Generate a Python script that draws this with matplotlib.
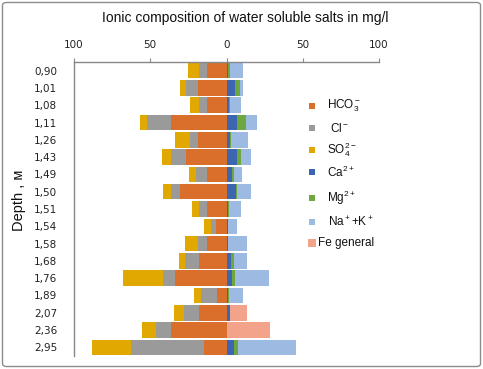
import matplotlib
matplotlib.use("Agg")
import matplotlib.pyplot as plt
import numpy as np
from matplotlib.patches import Rectangle, FancyBboxPatch
from matplotlib.ticker import FuncFormatter

plt.rcParams['mathtext.fontset'] = 'custom'
plt.rcParams['mathtext.rm'] = 'Liberation Sans'
plt.rcParams['mathtext.it'] = 'Liberation Sans'
plt.rcParams['mathtext.default'] = 'regular'

depths = ['0,90', '1,01', '1,08', '1,11', '1,26', '1,43', '1,49', '1,50', '1,51',
          '1,54', '1,58', '1,68', '1,76', '1,89', '2,07', '2,36', '2,95']
hco3 = [12.5, 18.4, 12.5, 36.6, 18.4, 26.8, 12.5, 30.7, 12.5, 6.6, 12.5, 18.0, 34.0, 6.4, 18.2, 36.6, 14.9]
cl = [5.7, 8.3, 5.7, 15.4, 5.7, 9.4, 7.7, 5.5, 5.3, 3.5, 6.4, 9.2, 7.9, 10.5, 9.9, 9.9, 47.8]
so4 = [7.2, 3.9, 5.9, 4.4, 9.9, 6.4, 4.6, 5.7, 5.0, 4.8, 8.6, 4.2, 25.7, 4.6, 6.6, 8.6, 25.2]
ca = [1.0, 5.5, 1.5, 7.2, 2.6, 6.6, 3.3, 6.1, 1.0, 1.0, 1.0, 3.1, 3.3, 1.0, 2.0, 0.0, 4.8]
mg = [1.0, 3.3, 1.0, 5.3, 0.5, 2.6, 1.3, 0.7, 0.7, 0.3, 0.3, 1.5, 2.2, 0.5, 0.3, 0.0, 2.6]
na = [8.6, 1.8, 7.2, 7.5, 10.7, 6.8, 5.5, 9.0, 8.1, 5.5, 12.0, 8.8, 22.4, 9.0, 0.0, 0.0, 38.2]
fe = [0, 0, 0, 0, 0, 0, 0, 0, 0, 0, 0, 0, 0, 0, 11.0, 28.5, 0]

xticks = [-100, -50, 0, 50, 100]

colors = {
    'hco3': '#DA6E2B', 'cl': '#9A9A9A', 'so4': '#E0A800',
    'ca': '#3D66B0', 'mg': '#6EA640', 'na': '#9DBBE2', 'fe': '#F2A38A',
}

W, H = 483, 369
fig = plt.figure(figsize=(W / 100, H / 100), dpi=100)
ax = fig.add_axes([74 / W, 1 - 356 / H, (379 - 74) / W, (356 - 62) / H])

y = np.arange(len(depths))
bh = 0.9
left_series = [(hco3, 'hco3'), (cl, 'cl'), (so4, 'so4')]
right_series = [(ca, 'ca'), (mg, 'mg'), (na, 'na'), (fe, 'fe')]

base = np.zeros(len(depths))
for vals, key in left_series:
    v = np.array(vals)
    ax.barh(y, -v, left=-base, height=bh, color=colors[key], linewidth=0)
    base += v
base = np.zeros(len(depths))
for vals, key in right_series:
    v = np.array(vals)
    ax.barh(y, v, left=base, height=bh, color=colors[key], linewidth=0)
    base += v

ax.set_xlim(-100, 100)
ax.set_ylim(len(depths) - 0.5, -0.5)
ax.set_yticks(y)
ax.set_yticklabels(depths, fontsize=7.5, family='DejaVu Sans', color='#222222')
ax.xaxis.tick_top()
ax.set_xticks(xticks)
ax.xaxis.set_major_formatter(FuncFormatter(lambda v, p: f"{abs(int(v))}"))
ax.tick_params(axis='x', labelsize=7.5, colors='#222222', length=3, color='#888888', pad=6)
ax.tick_params(axis='y', length=0, pad=12)
for lab in ax.get_xticklabels():
    lab.set_family('DejaVu Sans')
for s in ['right', 'bottom']:
    ax.spines[s].set_visible(False)
for s in ['top', 'left']:
    ax.spines[s].set_color('#888888')
    ax.spines[s].set_linewidth(1)

fig.text(245 / W, 1 - 18 / H, 'Ionic composition of water soluble salts in mg/l',
         ha='center', va='center', fontsize=10, family='Liberation Sans', color='#111111')
fig.text(19 / W, 1 - 200 / H, 'Depth , м', rotation=90, ha='center', va='center',
         fontsize=10.5, family='Liberation Sans', color='#111111')

legend_items = [
    ('hco3', 'HCO$_3^-$', 106, 327),
    ('cl', ' Cl$^-$', 128, 327),
    ('so4', 'SO$_4^{2-}$', 150, 327),
    ('ca', 'Ca$^{2+}$', 172, 327),
    ('mg', 'Mg$^{2+}$', 198, 327),
    ('na', 'Na$^+$+K$^+$', 222, 328),
]
for key, label, yy, tx in legend_items:
    fig.patches.append(Rectangle((309 / W, 1 - (yy + 3) / H), 6 / W, 6 / H,
                                 transform=fig.transFigure, color=colors[key], lw=0))
    fig.text(tx / W, 1 - yy / H, label, ha='left', va='center', fontsize=8.5,
             family='Liberation Sans', color='#111111')
fig.patches.append(Rectangle((308 / W, 1 - 247 / H), 8 / W, 8 / H,
                             transform=fig.transFigure, color=colors['fe'], lw=0))
fig.text(318 / W, 1 - 243 / H, 'Fe general', ha='left', va='center', fontsize=8.5,
         family='Liberation Sans', color='#111111')

border = FancyBboxPatch((2.5 / W, 2.5 / H), (W - 5) / W, (H - 5) / H,
                        boxstyle='round,pad=0,rounding_size=0.008',
                        transform=fig.transFigure, fill=False, ec='#8c8c8c', lw=1)
fig.patches.append(border)

fig.savefig('out.png', dpi=100)
